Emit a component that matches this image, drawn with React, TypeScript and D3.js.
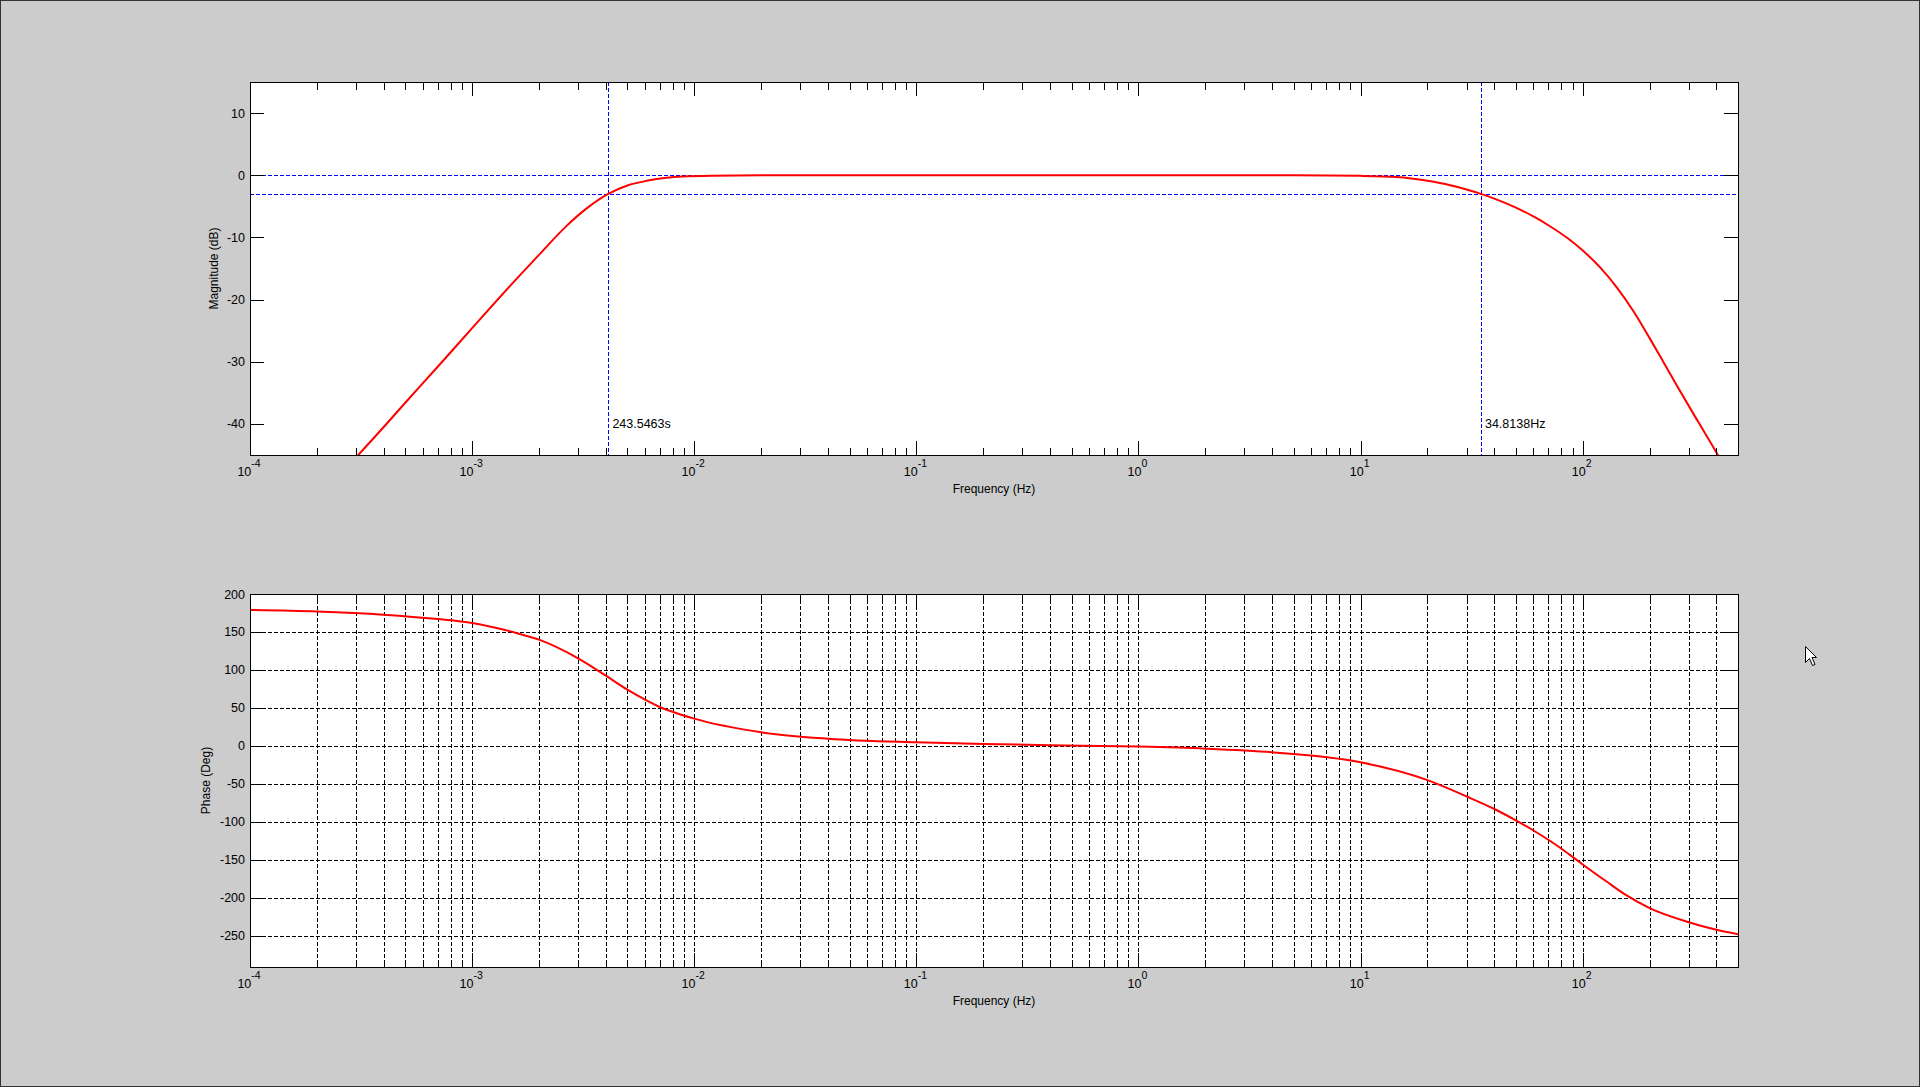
import { useEffect, useRef } from 'react'
import * as d3 from 'd3'

const WIDTH = 1920
const HEIGHT = 1087

// frequency axis (Hz), shared by both panels
const freqRange: [number, number] = [1e-4, 500]

// magnitude response
const magFreq = [
  3.0e-4, 4e-4, 5e-4, 7e-4, 1e-3, 1.5e-3, 2e-3, 2.67e-3, 3.3e-3, 4.1e-3,
  5e-3, 6.1e-3, 7.5e-3, 8.9e-3, 0.012, 0.02, 0.1, 1, 5, 10,
  14.5, 20, 25.3, 30, 34.8, 40, 50, 60, 70, 85,
  100, 120, 142, 170, 200, 230, 270, 332, 407,
]
const magDb = [
  -45.4, -40.5, -36.6, -30.8, -24.6, -17.6, -12.8, -8.1, -5.25, -3.0,
  -1.65, -0.9, -0.4, -0.2, -0.07, -0.02, 0, 0, 0, -0.1,
  -0.3, -0.9, -1.6, -2.3, -3.0, -3.75, -5.2, -6.63, -8.04, -10.06,
  -12.1, -14.87, -18.0, -22.0, -26.2, -29.95, -34.3, -39.75, -45.05,
]

// phase response
const phaseFreq = [
  1e-4, 2e-4, 4e-4, 7e-4, 1e-3, 1.58e-3, 2e-3, 3e-3, 4e-3, 5e-3,
  6e-3, 7e-3, 7.8e-3, 0.01, 0.02, 0.04, 0.1, 0.2, 0.4, 1,
  2, 4, 10, 20, 30, 40, 50, 60, 70, 80,
  90, 100, 128, 159, 200, 300, 400, 500,
]
const phaseDeg = [
  179, 177, 172.8, 167, 161.8, 148.7, 139.9, 115.3, 92.5, 74,
  61, 51.3, 46, 35.9, 18, 9.6, 4.8, 2.6, 1, -0.9,
  -3.6, -8.4, -21.5, -45, -66.5, -83, -98, -111.3, -123.5, -135,
  -146, -156, -178.5, -197.5, -213.5, -232, -242, -247.8,
]

const magTicks = [-40, -30, -20, -10, 0, 10]
const phaseTicks = [-250, -200, -150, -100, -50, 0, 50, 100, 150, 200]
const magRefLevels = [0, -3]
const cutoffs = [
  { freq: 0.004106, label: '243.5463s' },
  { freq: 34.8138, label: '34.8138Hz' },
]

const LEFT = 250
const RIGHT = 1738
const FONT = '"Liberation Sans", Arial, sans-serif'

interface PanelConfig {
  top: number
  bottom: number
  yDomain: [number, number]
  yTicks: number[]
  grid: boolean
  yLabel: string
  yLabelX: number
  freq: number[]
  values: number[]
  clipId: string
}

function drawPanel(svg: d3.Selection<SVGSVGElement, unknown, null, undefined>, cfg: PanelConfig) {
  const { top, bottom } = cfg
  const x = d3.scaleLog().domain(freqRange).range([LEFT, RIGHT])
  const y = d3.scaleLinear().domain(cfg.yDomain).range([bottom, top])
  const g = svg.append('g')

  g.append('rect')
    .attr('x', LEFT).attr('y', top)
    .attr('width', RIGHT - LEFT).attr('height', bottom - top)
    .attr('fill', '#fff')

  const xt = x.ticks()
  const isMajor = (t: number) => Math.abs(Math.log10(t) - Math.round(Math.log10(t))) < 1e-6
  const px = (v: number) => Math.round(v) + 0.5

  if (cfg.grid) {
    const grid = g.append('g')
    grid.append('g').selectAll('line').data(xt).enter().append('line')
      .attr('x1', (d) => px(x(d))).attr('x2', (d) => px(x(d)))
      .attr('y1', top).attr('y2', bottom)
    grid.append('g').selectAll('line').data(cfg.yTicks).enter().append('line')
      .attr('x1', LEFT).attr('x2', RIGHT)
      .attr('y1', (d) => px(y(d))).attr('y2', (d) => px(y(d)))
    grid.selectAll('line')
      .attr('stroke', '#000')
      .attr('stroke-width', 1)
      .attr('stroke-dasharray', '4,2')
      .attr('shape-rendering', 'crispEdges')
  }

  g.append('clipPath').attr('id', cfg.clipId)
    .append('rect')
    .attr('x', LEFT).attr('y', top)
    .attr('width', RIGHT - LEFT).attr('height', bottom - top)

  const overlay = g.append('g')

  const line = d3.line<number>()
    .x((_, i) => x(cfg.freq[i]))
    .y((d) => y(d))
    .curve(d3.curveMonotoneX)

  g.append('path')
    .datum(cfg.values)
    .attr('d', line)
    .attr('fill', 'none')
    .attr('stroke', '#ff0000')
    .attr('stroke-width', 2)
    .attr('stroke-linejoin', 'round')
    .attr('clip-path', `url(#${cfg.clipId})`)

  // ticks, inward on all four sides
  const ticks = g.append('g')
    .attr('stroke', '#000')
    .attr('stroke-width', 1)
    .attr('shape-rendering', 'crispEdges')
  xt.forEach((t) => {
    const len = isMajor(t) ? 14 : 7.5
    const xx = px(x(t))
    ticks.append('line').attr('x1', xx).attr('x2', xx).attr('y1', bottom).attr('y2', bottom - len)
    ticks.append('line').attr('x1', xx).attr('x2', xx).attr('y1', top).attr('y2', top + len)
  })
  cfg.yTicks.forEach((t) => {
    const yy = px(y(t))
    ticks.append('line').attr('x1', LEFT).attr('x2', LEFT + 14).attr('y1', yy).attr('y2', yy)
    ticks.append('line').attr('x1', RIGHT).attr('x2', RIGHT - 14).attr('y1', yy).attr('y2', yy)
  })
  g.append('rect')
    .attr('x', LEFT + 0.5).attr('y', top + 0.5)
    .attr('width', RIGHT - LEFT).attr('height', bottom - top)
    .attr('fill', 'none')
    .attr('stroke', '#000')
    .attr('stroke-width', 1.2)
    .attr('shape-rendering', 'crispEdges')

  const labels = g.append('g')
    .attr('font-family', FONT)
    .attr('font-size', 12.5)
    .attr('fill', '#000')

  xt.filter(isMajor).forEach((t) => {
    const txt = labels.append('text')
      .attr('x', x(t) - 1)
      .attr('y', bottom + 20.5)
      .attr('text-anchor', 'middle')
      .text('10')
    txt.append('tspan')
      .attr('dy', -9)
      .attr('font-size', 10.5)
      .text(String(Math.round(Math.log10(t))))
  })

  cfg.yTicks.forEach((t) => {
    labels.append('text')
      .attr('x', LEFT - 5)
      .attr('y', y(t) + 4.5)
      .attr('text-anchor', 'end')
      .text(String(t))
  })

  labels.append('text')
    .attr('x', (LEFT + RIGHT) / 2)
    .attr('y', bottom + 37.5)
    .attr('text-anchor', 'middle')
    .attr('font-size', 12)
    .text('Frequency (Hz)')

  labels.append('text')
    .attr('transform', `translate(${cfg.yLabelX},${(top + bottom) / 2}) rotate(-90)`)
    .attr('text-anchor', 'middle')
    .attr('font-size', 12)
    .text(cfg.yLabel)

  return { x, y, overlay, labels }
}

export default function App() {
  const svgRef = useRef<SVGSVGElement>(null)

  useEffect(() => {
    if (!svgRef.current) return
    const svg = d3.select(svgRef.current)
    svg.selectAll('*').remove()

    svg.append('rect')
      .attr('width', WIDTH).attr('height', HEIGHT)
      .attr('fill', '#cccccc')
    svg.append('rect')
      .attr('x', 0.5).attr('y', 0.5)
      .attr('width', WIDTH - 1).attr('height', HEIGHT - 1)
      .attr('fill', 'none')
      .attr('stroke', '#333')
      .attr('shape-rendering', 'crispEdges')

    // magnitude panel
    const mag = drawPanel(svg, {
      top: 82,
      bottom: 455,
      yDomain: [-45, 15],
      yTicks: magTicks,
      grid: false,
      yLabel: 'Magnitude (dB)',
      yLabelX: 217.5,
      freq: magFreq,
      values: magDb,
      clipId: 'clip-mag',
    })

    const blue = mag.overlay
      .attr('stroke', '#0000ff')
      .attr('stroke-width', 1)
      .attr('stroke-dasharray', '4,2')
      .attr('shape-rendering', 'crispEdges')
    magRefLevels.forEach((lvl) => {
      const yy = Math.round(mag.y(lvl)) + 0.5
      blue.append('line').attr('x1', LEFT).attr('x2', RIGHT).attr('y1', yy).attr('y2', yy)
    })
    cutoffs.forEach((c) => {
      const xx = Math.round(mag.x(c.freq)) + 0.5
      blue.append('line').attr('x1', xx).attr('x2', xx).attr('y1', 82).attr('y2', 455)
      mag.labels.append('text')
        .attr('x', mag.x(c.freq) + 4)
        .attr('y', mag.y(-40) + 4.5)
        .text(c.label)
    })

    // phase panel
    drawPanel(svg, {
      top: 594,
      bottom: 967,
      yDomain: [-291, 200],
      yTicks: phaseTicks,
      grid: true,
      yLabel: 'Phase (Deg)',
      yLabelX: 210,
      freq: phaseFreq,
      values: phaseDeg,
      clipId: 'clip-phase',
    })

    // mouse pointer left on the figure
    svg.append('path')
      .attr('transform', 'translate(1805.5,646.5)')
      .attr('d', 'M0,0 L0,16 L4,12 L7,19 L9.5,18 L6.5,11 L11,11 Z')
      .attr('fill', '#fff')
      .attr('stroke', '#000')
      .attr('stroke-width', 1)
  }, [])

  return (
    <svg
      ref={svgRef}
      width={WIDTH}
      height={HEIGHT}
      style={{ position: 'absolute', left: 0, top: 0, display: 'block' }}
    />
  )
}
